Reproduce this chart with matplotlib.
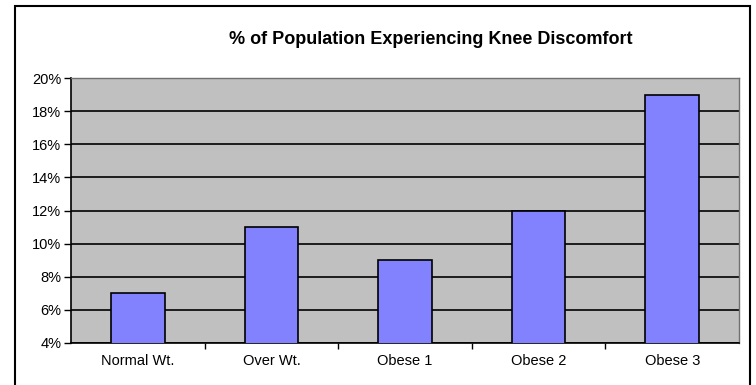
import matplotlib.pyplot as plt
from matplotlib.patches import Rectangle
from matplotlib.ticker import FuncFormatter, MultipleLocator

categories = ['Normal Wt.', 'Over Wt.', 'Obese 1', 'Obese 2', 'Obese 3']
pct_knee = [7, 11, 9, 12, 19]

plt.rcParams['font.family'] = ['Liberation Sans', 'DejaVu Sans']

fig = plt.figure(figsize=(7.56, 3.85), dpi=100)
fig.patch.set_facecolor('white')

# chart border around the whole thing
fig.add_artist(Rectangle((15 / 756, -0.05), (750 - 15) / 756, 1.05 - 6 / 385,
                         transform=fig.transFigure, fill=False,
                         edgecolor='black', linewidth=1.5))

ax = fig.add_axes([71 / 756, 1 - 343 / 385, (739 - 71) / 756, (343 - 78) / 385])
ax.set_facecolor('#c0c0c0')

xs = list(range(len(categories)))
ax.bar(xs, pct_knee, width=0.4, color='#8282ff', edgecolor='black',
       linewidth=1.2, zorder=3, bottom=0)

ax.set_xlim(-0.5, len(categories) - 0.5)
ax.set_ylim(4, 20)
ax.yaxis.set_major_locator(MultipleLocator(2))
ax.yaxis.set_major_formatter(FuncFormatter(lambda v, p: f'{v:.0f}%'))
ax.grid(axis='y', color='black', linewidth=1.2, zorder=1)

ax.set_xticks(xs)
ax.set_xticklabels(categories, fontsize=10.5)
ax.set_xticks([x + 0.5 for x in xs[:-1]], minor=True)
ax.tick_params(axis='x', which='major', length=0, pad=8)
ax.tick_params(axis='x', which='minor', length=4, direction='out', width=1)
ax.tick_params(axis='y', length=5, width=1, labelsize=10.5, pad=2)

for side in ('top', 'right'):
    ax.spines[side].set_color('#707070')
    ax.spines[side].set_linewidth(1)
for side in ('left', 'bottom'):
    ax.spines[side].set_linewidth(1.2)

fig.text(431 / 756, 1 - 40 / 385, '% of Population Experiencing Knee Discomfort',
         ha='center', va='center', fontsize=13, fontweight='bold')

fig.savefig('out.png', dpi=100)
